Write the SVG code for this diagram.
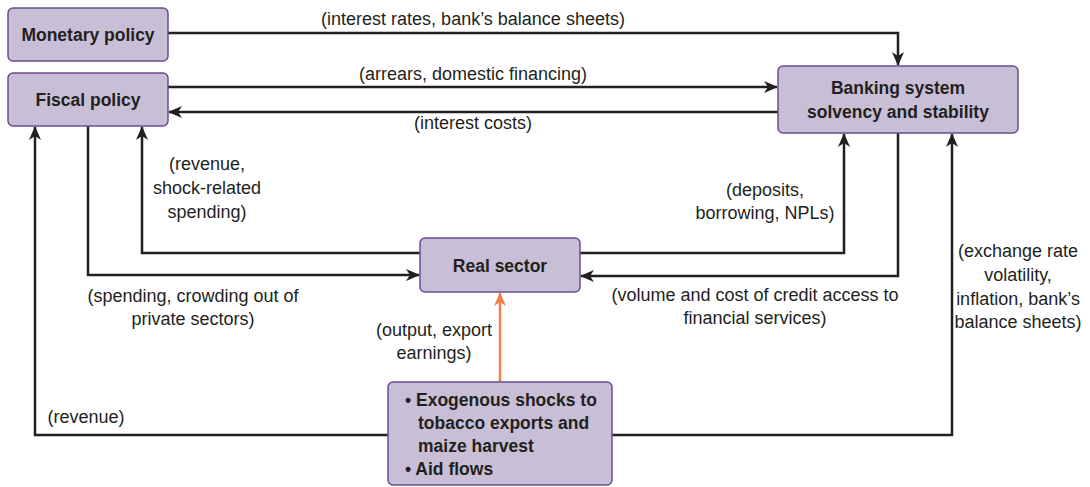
<svg xmlns="http://www.w3.org/2000/svg" width="1090" height="487" viewBox="0 0 1090 487">
<style>
.box{fill:#c8bfd6;stroke:#6b4c8e;stroke-width:1.5}
.t{font-family:"Liberation Sans Narrow","Liberation Sans",Arial,sans-serif;fill:#231f20}
.nt{font-size:17.5px;font-weight:bold;text-anchor:middle}
.ls{text-anchor:start}
.lb{font-size:18px;text-anchor:middle}
.c{fill:none;stroke:#231f20;stroke-width:2.5}
.o{fill:none;stroke:#f4804a;stroke-width:2.5}
</style>
<defs>
<marker id="ah" markerWidth="14" markerHeight="12" refX="13" refY="6" orient="auto" markerUnits="userSpaceOnUse">
<path d="M0,0 L14,6 L0,12 L4,6 Z" fill="#231f20"/>
</marker>
<marker id="ao" markerWidth="14" markerHeight="12" refX="13" refY="6" orient="auto" markerUnits="userSpaceOnUse">
<path d="M0,0 L14,6 L0,12 L4,6 Z" fill="#f4804a"/>
</marker>
</defs>
<rect width="1090" height="487" fill="#fff"/>
<g id="connectors">
<path class="c" d="M168,33 H898 V65" marker-end="url(#ah)"/>
<path class="c" d="M168,87 H777" marker-end="url(#ah)"/>
<path class="c" d="M778,112 H169" marker-end="url(#ah)"/>
<path class="c" d="M88,126 V275 H419" marker-end="url(#ah)"/>
<path class="c" d="M420,253 H142 V127" marker-end="url(#ah)"/>
<path class="c" d="M580,253 H844 V134" marker-end="url(#ah)"/>
<path class="c" d="M898,133 V276 H581" marker-end="url(#ah)"/>
<path class="c" d="M388,435 H35 V127" marker-end="url(#ah)"/>
<path class="c" d="M612,435 H952 V134" marker-end="url(#ah)"/>
<path class="o" d="M500,382 V293" marker-end="url(#ao)"/>
</g>
<g id="labels" class="t">
<text class="lb" x="473" y="25">(interest rates, bank’s balance sheets)</text>
<text class="lb" x="473" y="80">(arrears, domestic financing)</text>
<text class="lb" x="473" y="129">(interest costs)</text>
<text class="lb" x="207"><tspan x="207" y="170">(revenue,</tspan><tspan x="207" y="194">shock-related</tspan><tspan x="207" y="218">spending)</tspan></text>
<text class="lb" x="765"><tspan x="765" y="196">(deposits,</tspan><tspan x="765" y="219">borrowing, NPLs)</tspan></text>
<text class="lb" x="193"><tspan x="193" y="302">(spending, crowding out of</tspan><tspan x="193" y="325">private sectors)</tspan></text>
<text class="lb" x="755"><tspan x="755" y="301">(volume and cost of credit access to</tspan><tspan x="755" y="324">financial services)</tspan></text>
<text class="lb" x="434"><tspan x="434" y="336">(output, export</tspan><tspan x="434" y="359">earnings)</tspan></text>
<text class="lb" x="1018"><tspan x="1018" y="257">(exchange rate</tspan><tspan x="1018" y="281">volatility,</tspan><tspan x="1018" y="305">inflation, bank’s</tspan><tspan x="1018" y="328">balance sheets)</tspan></text>
<text class="lb" x="86" y="423">(revenue)</text>
</g>
<g id="monetary">
<rect class="box" x="8" y="8" width="160" height="53" rx="5"/>
<text class="t nt" x="88" y="41">Monetary policy</text>
</g>
<g id="fiscal">
<rect class="box" x="8" y="73" width="160" height="53" rx="5"/>
<text class="t nt" x="88" y="106">Fiscal policy</text>
</g>
<g id="banking">
<rect class="box" x="778" y="66" width="240" height="67" rx="5"/>
<text class="t nt" x="898" y="94">Banking system</text>
<text class="t nt" x="898" y="118">solvency and stability</text>
</g>
<g id="real">
<rect class="box" x="420" y="238" width="160" height="54" rx="5"/>
<text class="t nt" x="500" y="272">Real sector</text>
</g>
<g id="shocks">
<rect class="box" x="388" y="382" width="224" height="103" rx="5"/>
<text class="t nt ls" x="405" y="406">• Exogenous shocks to</text>
<text class="t nt ls" x="418" y="429">tobacco exports and</text>
<text class="t nt ls" x="418" y="452">maize harvest</text>
<text class="t nt ls" x="405" y="475">• Aid flows</text>
</g>
</svg>
